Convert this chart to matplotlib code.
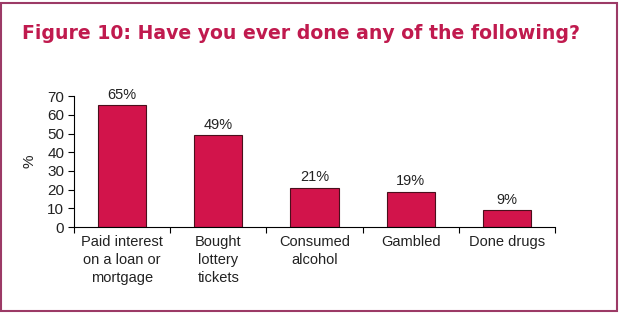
import numpy as np
import matplotlib.pyplot as plt
from matplotlib.patches import Rectangle

categories = ["Paid interest\non a loan or\nmortgage", "Bought\nlottery\ntickets",
              "Consumed\nalcohol", "Gambled", "Done drugs"]
values = [65, 49, 21, 19, 9]
yticks = [0, 10, 20, 30, 40, 50, 60, 70]

plt.rcParams['font.family'] = ['Liberation Sans', 'DejaVu Sans']

fig = plt.figure(figsize=(6.19, 3.15), dpi=100)
fig.patch.set_facecolor('white')

# outer frame
fig.patches.append(Rectangle((0.002, 0.012), 0.994, 0.978, transform=fig.transFigure,
                             fill=False, edgecolor='#9c3a66', lw=1.5))

fig.text(0.036, 0.893, "Figure 10: Have you ever done any of the following?",
         color='#c01a4e', fontsize=13.6, fontweight='bold', va='center', ha='left',
         family='DejaVu Sans')

ax = fig.add_axes([0.1196, 0.279, 0.777, 0.416])
x = np.arange(len(values))
bars = ax.bar(x, values, width=0.5, color='#d2144b', edgecolor='#4a0f1c', lw=0.8)
for xi, v in zip(x, values):
    ax.text(xi, v + 1.8, f"{v}%", ha='center', va='bottom', fontsize=10.5, color='#222222')

ax.set_xlim(-0.5, len(values) - 0.5)
ax.set_ylim(0, 70)
ax.set_yticks(yticks)
ax.set_yticklabels([str(t) for t in yticks], fontsize=11, color='#222222')
ax.set_xticks(x)
ax.set_xticklabels(categories, fontsize=10.5, color='#222222', linespacing=1.35, va='top')
ax.set_xticks(np.arange(-0.5, len(values)), minor=True)
ax.tick_params(axis='x', which='major', length=0, pad=6)
ax.tick_params(axis='x', which='minor', length=4, width=0.8, direction='out')
ax.tick_params(axis='y', length=4, width=0.8, pad=3)
for s in ['top', 'right']:
    ax.spines[s].set_visible(False)
ax.spines['left'].set_linewidth(0.8)
ax.spines['bottom'].set_linewidth(0.8)
ax.set_ylabel('%', fontsize=11, color='#222222', labelpad=8)

fig.savefig('out.png', dpi=100)
